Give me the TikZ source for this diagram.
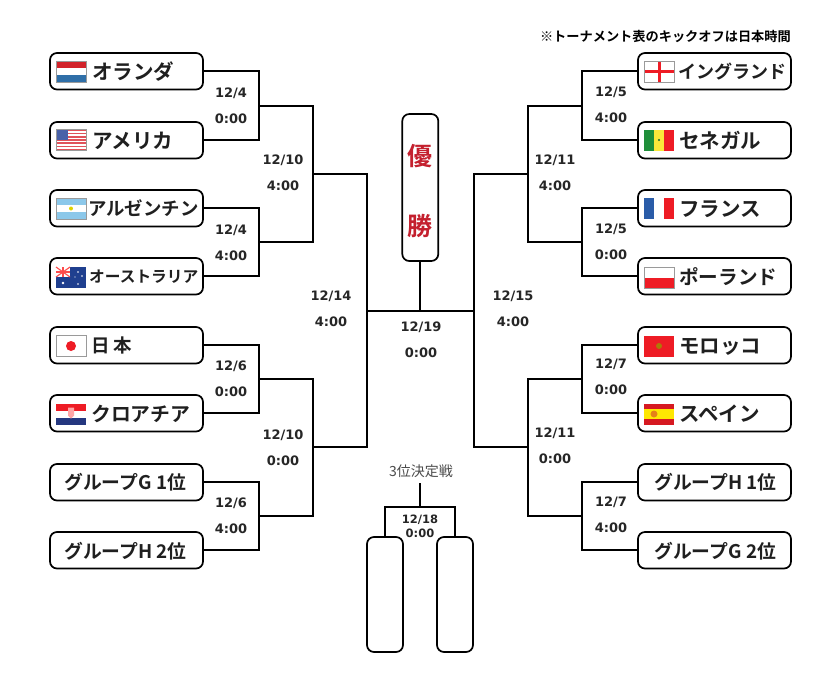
\documentclass[tikz,border=0pt]{standalone}
\usepackage{fontspec}
\setmainfont{Noto Sans CJK JP}[BoldFont={Noto Sans CJK JP Bold}]
\newfontfamily\datefont{DejaVu Sans}
\definecolor{nlred}{HTML}{D2232A}\definecolor{nlblue}{HTML}{2F6FA8}
\definecolor{usblue}{HTML}{4A62A8}\definecolor{usred}{HTML}{E0525A}
\definecolor{arblue}{HTML}{8CC8EA}\definecolor{aublue}{HTML}{1F3F8F}
\definecolor{flagred}{HTML}{EE1C25}\definecolor{hrblue}{HTML}{24377F}
\definecolor{frblue}{HTML}{2A5CA8}\definecolor{sngreen}{HTML}{1F8F3A}
\definecolor{snyellow}{HTML}{FCE83A}\definecolor{winred}{HTML}{C4202E}
\definecolor{flagedge}{HTML}{9A9A9A}
\newcommand{\FS}[1]{\fontsize{#1}{#1}\selectfont}
\newcommand{\TN}[2]{\FS{#1}\rule{0pt}{.76em}\smash{#2}}
\newcommand{\DT}[1]{\rule{0pt}{.73em}\smash{#1}}
\tikzset{
  x=1pt,y=-1pt,
  team/.style={draw,line width=1.7pt,rounded corners=7pt,minimum width=153pt,minimum height=36.5pt,inner sep=0pt,outer sep=0pt,fill=white,anchor=north west},
  tall/.style={draw,line width=1.7pt,rounded corners=7pt,minimum width=36pt,inner sep=0pt,outer sep=0pt,fill=white,anchor=north west},
  teamname/.style={font=\bfseries,anchor=west,inner sep=0pt,text=black!88},
  datel/.style={font=\datefont\bfseries\fontsize{13}{14}\selectfont,inner sep=0pt,text=black!85},
  wire/.style={line width=1.7pt,line cap=rect},
  flagline/.style={draw=flagedge,line width=.5pt}
}
% flags: local box 30 x 21
\newcommand{\fnl}{\fill[nlred](0,0)rectangle(30,7);\fill[white](0,7)rectangle(30,14);\fill[nlblue](0,14)rectangle(30,21);\draw[flagline](0,0)rectangle(30,21);}
\newcommand{\fus}{\fill[white](0,0)rectangle(30,21);\foreach \i in {0,3.2,...,19.5}{\fill[usred](0,\i)rectangle(30,\i+1.7);}\fill[usblue](0,0)rectangle(12,10);\draw[flagline](0,0)rectangle(30,21);}
\newcommand{\far}{\fill[arblue](0,0)rectangle(30,7);\fill[white](0,7)rectangle(30,14);\fill[arblue](0,14)rectangle(30,21);\fill[yellow!70!olive](15,10.5)circle(2);\draw[flagline](0,0)rectangle(30,21);}
\newcommand{\fau}{\fill[aublue](0,0)rectangle(30,21);\fill[white](0,0)rectangle(14,10);\draw[red!60!pink,line width=1.1pt](0,0)--(14,10)(14,0)--(0,10);\draw[red!60!pink,line width=1.4pt](7,0)--(7,10)(0,5)--(14,5);\fill[white](7,16)circle(1.3)(22,5)circle(.8)(26,9)circle(.8)(22,17)circle(.9)(19,10)circle(.7);}
\newcommand{\fjp}{\fill[white](0,0)rectangle(30,21);\fill[flagred](15,10.5)circle(5);\draw[flagline](0,0)rectangle(30,21);}
\newcommand{\fhr}{\fill[flagred](0,0)rectangle(30,7);\fill[white](0,7)rectangle(30,14);\fill[hrblue](0,14)rectangle(30,21);\fill[red!35!white](12,4)rectangle(18,12)(12,12)--(18,12)--(15,15)--cycle;}
\newcommand{\feng}{\fill[white](0,0)rectangle(30,21);\fill[flagred](13.5,0)rectangle(16.5,21);\fill[flagred](0,9)rectangle(30,12);\draw[flagline](0,0)rectangle(30,21);}
\newcommand{\fsn}{\fill[sngreen](0,0)rectangle(10,21);\fill[snyellow](10,0)rectangle(20,21);\fill[flagred](20,0)rectangle(30,21);\fill[sngreen!70!black](15,10.5)circle(1.1);}
\newcommand{\ffr}{\fill[frblue](0,0)rectangle(10,21);\fill[white](10,0)rectangle(20,21);\fill[flagred](20,0)rectangle(30,21);}
\newcommand{\fpl}{\fill[white](0,0)rectangle(30,10.5);\fill[flagred](0,10.5)rectangle(30,21);\draw[flagline](0,0)rectangle(30,21);}
\newcommand{\fma}{\fill[flagred](0,0)rectangle(30,21);\fill[olive!70!red](15,10.5)circle(3);}
\newcommand{\fes}{\fill[flagred!90!black](0,0)rectangle(30,21);\fill[yellow!90!orange](0,5.2)rectangle(30,15.8);\fill[orange!60!brown](10,10.5)circle(3.5);}
\newcommand{\flagat}[3]{\begin{scope}[shift={(#1,#2)}]#3\end{scope}}
\begin{document}
\begin{tikzpicture}
\useasboundingbox (0,0) rectangle (840,673);
\fill[white] (0,0) rectangle (840,673);

% team boxes
\foreach \n/\y in {1/53,2/122,3/190,4/258,5/327,6/395,7/464,8/532}{
  \node[team] (L\n) at (50,\y) {};
  \node[team] (R\n) at (638,\y) {};
}
\node[tall,minimum height=147pt] (win) at (402.3,114) {};
\node[tall,minimum height=115pt] (tA) at (367,537) {};
\node[tall,minimum height=115pt] (tB) at (437,537) {};

% junctions
\coordinate (la) at (259,106); \coordinate (lb) at (259,242);
\coordinate (lc) at (259,379); \coordinate (ld) at (259,516);
\coordinate (lqa) at (313,174); \coordinate (lqb) at (313,447);
\coordinate (lsem) at (367,311);
\coordinate (ra) at (582,106); \coordinate (rb) at (582,242);
\coordinate (rc) at (582,379); \coordinate (rd) at (582,516);
\coordinate (rqa) at (528,174); \coordinate (rqb) at (528,447);
\coordinate (rsem) at (474,311);
\coordinate (third) at (420,507);
\coordinate (thirdtop) at (420,484);

\begin{scope}[wire]
\draw (L1.east) -| (la) |- (L2.east);
\draw (L3.east) -| (lb) |- (L4.east);
\draw (L5.east) -| (lc) |- (L6.east);
\draw (L7.east) -| (ld) |- (L8.east);
\draw (la) -| (lqa) |- (lb);
\draw (lc) -| (lqb) |- (ld);
\draw (lqa) -| (lsem) |- (lqb);
\draw (R1.west) -| (ra) |- (R2.west);
\draw (R3.west) -| (rb) |- (R4.west);
\draw (R5.west) -| (rc) |- (R6.west);
\draw (R7.west) -| (rd) |- (R8.west);
\draw (ra) -| (rqa) |- (rb);
\draw (rc) -| (rqb) |- (rd);
\draw (rqa) -| (rsem) |- (rqb);
\draw (lsem) -- (rsem);
\draw (win.south) -- (win.south |- lsem);
\draw (thirdtop) -- (third);
\draw (tA.north) |- (third) -| (tB.north);
\end{scope}

% flags
\flagat{56}{61}{\fnl} \flagat{56}{129.5}{\fus} \flagat{56}{198}{\far} \flagat{56}{267}{\fau}
\flagat{56}{335.5}{\fjp} \flagat{56}{403.5}{\fhr}
\flagat{644}{61}{\feng} \flagat{644}{129.5}{\fsn} \flagat{644}{198}{\ffr} \flagat{644}{267}{\fpl}
\flagat{644}{335.5}{\fma} \flagat{644}{403.5}{\fes}

% team names
\node[teamname] (n1) at (92,72) {\TN{20.5}{オランダ}};
\node[teamname] (n2) at (92,141) {\TN{20.5}{アメリカ}};
\node[teamname] (n3) at (88,208.5) {\TN{18.4}{アルゼンチン}};
\node[teamname] (n4) at (89,277) {\TN{15.7}{オーストラリア}};
\node[teamname] (n5) at (91,345.5) {\TN{18.5}{日 本}};
\node[teamname] (n6) at (91,414) {\TN{19.8}{クロアチア}};
\node[teamname] (n7) at (64,482.5) {\TN{18.8}{グループG 1位}};
\node[teamname] (n8) at (64,551) {\TN{18.8}{グループH 2位}};
\node[teamname] (m1) at (678,72) {\TN{18}{イングランド}};
\node[teamname] (m2) at (679,141) {\TN{20.5}{セネガル}};
\node[teamname] (m3) at (679,208.5) {\TN{20.5}{フランス}};
\node[teamname] (m4) at (679,277) {\TN{19.6}{ポーランド}};
\node[teamname] (m5) at (679,345.5) {\TN{20.5}{モロッコ}};
\node[teamname] (m6) at (679,414) {\TN{20.5}{スペイン}};
\node[teamname] (m7) at (654,482.5) {\TN{18.8}{グループH 1位}};
\node[teamname] (m8) at (654,551) {\TN{18.8}{グループG 2位}};

% dates
\foreach \i/\x/\y/\dd/\b in {
  a/231/93/4/0:00, b/231/230/4/4:00, c/231/366/6/0:00, d/231/503/6/4:00,
  e/283/160/10/4:00, f/283/435/10/0:00,
  g/331/296/14/4:00, h/513/296/15/4:00, i/421/327/19/0:00,
  j/611/92/5/4:00, k/611/229/5/0:00, l/611/364/7/0:00, m/611/502/7/4:00,
  n/555/160/11/4:00, o/555/433/11/0:00}{
  \node[datel] (d\i) at (\x,\y) {\DT{12/\dd}};
  \node[datel] (t\i) at (\x,\y+26) {\DT{\b}};
}
\node[datel,font=\datefont\bfseries\fontsize{11.5}{12}\selectfont] (d3) at (420,519) {\DT{12/18}};
\node[datel,font=\datefont\bfseries\fontsize{11.5}{12}\selectfont] (t3) at (420,533) {\DT{0:00}};

% other text
\node[inner sep=0pt,text=winred,font=\bfseries\FS{25}] (w1) at (420.3,156) {優};
\node[inner sep=0pt,text=winred,font=\bfseries\FS{25}] (w2) at (420.3,226) {勝};
\node[inner sep=0pt,text=black!70,font=\FS{14}] (third3) at (421,471) {3位決定戦};
\node[inner sep=0pt,anchor=east,font=\bfseries\FS{13.2}] (note) at (791,36) {※トーナメント表のキックオフは日本時間};
\end{tikzpicture}
\end{document}
